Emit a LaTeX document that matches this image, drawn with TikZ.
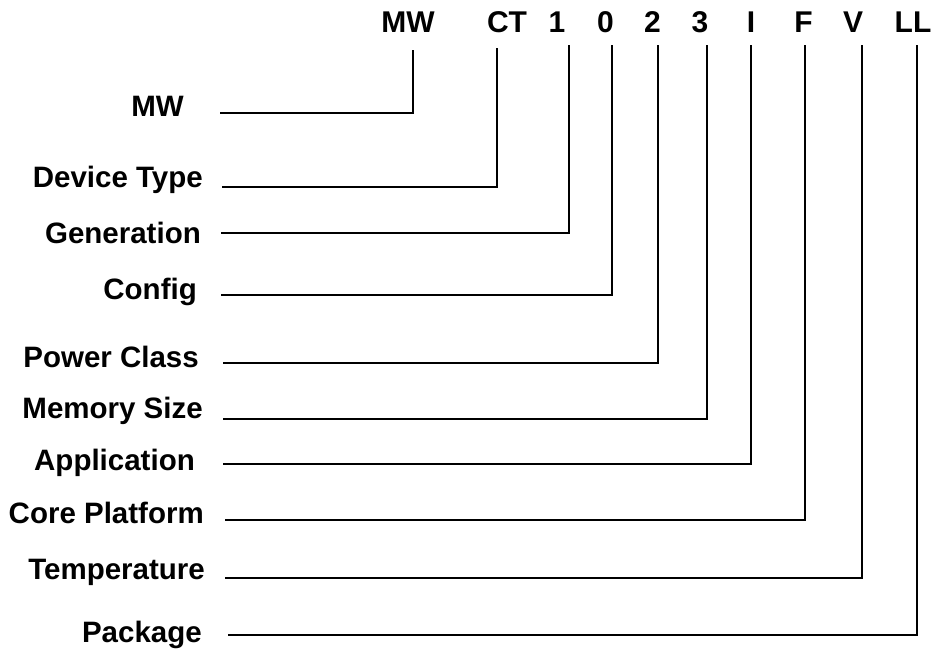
\documentclass[tikz,border=0pt]{standalone}
\usepackage{fontspec}
\setmainfont{Liberation Sans}
\begin{document}
\begin{tikzpicture}[x=1pt,y=-1pt,
  lab/.style={font=\fontsize{29.5}{32}\selectfont\bfseries, inner sep=0pt, anchor=base east},
  code/.style={font=\fontsize{30}{33}\selectfont\bfseries, inner sep=0pt, anchor=base},
  wire/.style={line width=2pt}]
\useasboundingbox[fill=white] (0,0) rectangle (935,650);
\foreach \i/\txt/\rx/\by/\sx/\ly/\vx/\vt/\code/\cx in {
  1/MW/184/117/220/113/413/50/MW/408,
  2/Device Type/203/187/222/187/497/48/CT/507,
  3/Generation/201/243/221/233/569/45/1/557,
  4/Config/197/299/221/295/612/45/0/605.5,
  5/Power Class/199/367/223/363/658/45/2/652.5,
  6/Memory Size/203/418/223/419/707/45/3/700,
  7/Application/195/470/223/464/751/45/I/751,
  8/Core Platform/204/523/225/520/805/45/F/803.5,
  9/Temperature/205/579/225/578/862/45/V/853,
  10/Package/202/642/228/635/917/45/LL/913}{
  \node[lab] (l\i) at (\rx,\by) {\txt};
  \node[code] (c\i) at (\cx,33) {\code};
  \coordinate (s\i) at (\sx,\ly);
  \coordinate (t\i) at (\vx,\vt);
  \draw[wire] (s\i) -| (t\i);
}
\end{tikzpicture}
\end{document}
